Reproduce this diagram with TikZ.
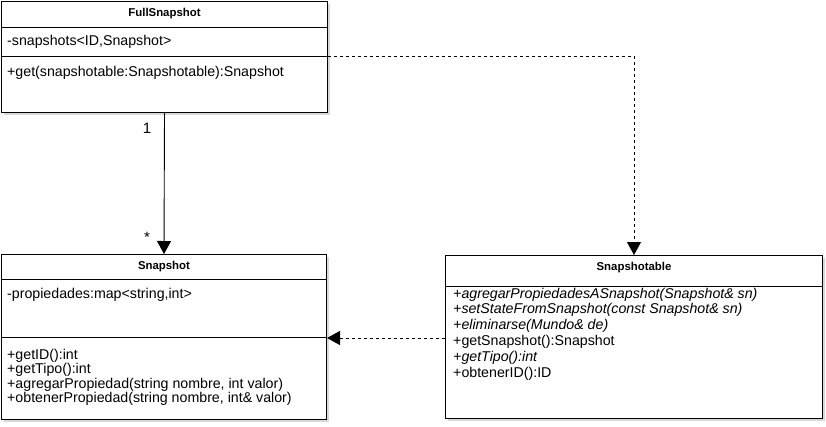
\documentclass[tikz,border=0pt]{standalone}
\usepackage{fontspec}
\setmainfont{Liberation Sans}
\usetikzlibrary{arrows.meta,shadows}
\tikzset{
  umlbox/.style={draw, line width=1pt, fill=white, inner sep=0pt, anchor=north west,
    drop shadow={shadow xshift=2.5pt, shadow yshift=-2.5pt, opacity=0.3, fill=gray}},
  cname/.style={font=\fontsize{11.4}{13}\selectfont\bfseries, inner sep=0pt},
  member/.style={font=\fontsize{14.2}{16}\selectfont, anchor=base west, inner sep=0pt},
  imember/.style={member, font=\fontsize{14.2}{16}\selectfont\itshape},
  divider/.style={line width=1pt},
  conn/.style={line width=0.9pt, -{Triangle[length=13pt,width=14pt]}},
  dep/.style={conn, dash pattern=on 3pt off 3pt},
  mult/.style={font=\fontsize{15}{17}\selectfont, inner sep=0pt},
}
\begin{document}
\begin{tikzpicture}[x=1pt,y=-1pt]
\useasboundingbox (0,0) rectangle (826,426);
% boxes
\node[umlbox, minimum width=326pt, minimum height=111pt] (full) at (1,1) {};
\node[umlbox, minimum width=325pt, minimum height=165pt] (snap) at (1,254) {};
\node[umlbox, minimum width=377pt, minimum height=163pt] (snapable) at (445,255) {};
% dividers
\draw[divider] ([yshift=-26pt]full.north west) -- ([yshift=-26pt]full.north east);
\draw[divider] ([yshift=-55pt]full.north west) -- ([yshift=-55pt]full.north east);
\draw[divider] ([yshift=-25pt]snap.north west) -- ([yshift=-25pt]snap.north east);
\draw[divider] ([yshift=-83pt]snap.north west) -- ([yshift=-83pt]snap.north east);
\draw[divider] ([yshift=-31pt]snapable.north west) -- ([yshift=-31pt]snapable.north east);
% titles
\node[cname] (fullT) at ([yshift=-13pt]full.north) {FullSnapshot};
\node[cname] (snapT) at ([yshift=-13pt]snap.north) {Snapshot};
\node[cname] (snapableT) at ([yshift=-13pt]snapable.north) {Snapshotable};
% members
\node[member] (fullA) at ([xshift=6pt,yshift=-44pt]full.north west) {-snapshots<ID,Snapshot>};
\node[member] (fullM) at ([xshift=6pt,yshift=-75pt]full.north west) {+get(snapshotable:Snapshotable):Snapshot};
\node[member] (snapA) at ([xshift=6pt,yshift=-44pt]snap.north west) {-propiedades:map<string,int>};
\node[member] (snapM1) at ([xshift=6pt,yshift=-105pt]snap.north west) {+getID():int};
\node[member] (snapM2) at ([xshift=6pt,yshift=-119.5pt]snap.north west) {+getTipo():int};
\node[member] (snapM3) at ([xshift=6pt,yshift=-134pt]snap.north west) {+agregarPropiedad(string nombre, int valor)};
\node[member] (snapM4) at ([xshift=6pt,yshift=-148.5pt]snap.north west) {+obtenerPropiedad(string nombre, int\& valor)};
\node[imember] (sbM1) at ([xshift=8pt,yshift=-43pt]snapable.north west) {+agregarPropiedadesASnapshot(Snapshot\& sn)};
\node[imember] (sbM2) at ([xshift=8pt,yshift=-58.8pt]snapable.north west) {+setStateFromSnapshot(const Snapshot\& sn)};
\node[imember] (sbM3) at ([xshift=8pt,yshift=-74.6pt]snapable.north west) {+eliminarse(Mundo\& de)};
\node[member] (sbM4) at ([xshift=8pt,yshift=-90.4pt]snapable.north west) {+getSnapshot():Snapshot};
\node[imember] (sbM5) at ([xshift=8pt,yshift=-106.2pt]snapable.north west) {+getTipo():int};
\node[member] (sbM6) at ([xshift=8pt,yshift=-122pt]snapable.north west) {+obtenerID():ID};
% connectors
\draw[conn] (full.south) -- (snap.north);
\node[mult] (one) at (147,128) {1};
\node[mult] (star) at (147,237) {*};
\draw[dep] ([yshift=-55pt]full.north east) -| (snapable.north);
\draw[dep] (snapable.west |- 0,338) -- (snap.east |- 0,338);
\end{tikzpicture}
\end{document}
